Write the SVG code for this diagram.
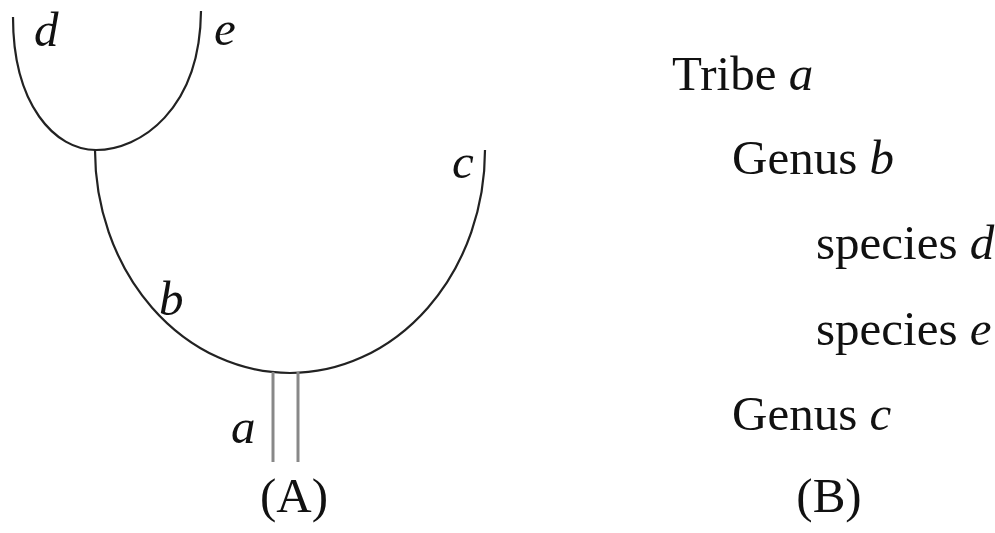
<svg xmlns="http://www.w3.org/2000/svg" width="995" height="533" viewBox="0 0 995 533">
<style>
.t{font-family:"Liberation Serif","Times New Roman",serif;font-size:49px;fill:#111}
.i{font-style:italic}
.br{fill:none;stroke:#222;stroke-width:2.2}
.st{fill:none;stroke:#888;stroke-width:3}
</style>
<rect width="995" height="533" fill="#fff"/>
<g id="connectors">
<path id="arc-de" class="br" d="M13,17 C13,105 55,150 96,150 C140,150 200,110 201,11"/>
<path id="arc-bc" class="br" d="M95,150 A195,223 0 0 0 485,150"/>
<line class="st" x1="273" y1="372" x2="273" y2="462"/>
<line class="st" x1="298" y1="372" x2="298" y2="462"/>
</g>
<g id="label-d"><text class="t i" x="34" y="46">d</text></g>
<g id="label-e"><text class="t i" x="214" y="45">e</text></g>
<g id="label-c"><text class="t i" x="452" y="178">c</text></g>
<g id="label-b"><text class="t i" x="159" y="315">b</text></g>
<g id="label-a"><text class="t i" x="231" y="443">a</text></g>
<g id="caption-A"><text class="t" x="294" y="512" text-anchor="middle">(A)</text></g>
<g id="tribe-a"><text class="t" x="672" y="90">Tribe <tspan class="i">a</tspan></text></g>
<g id="genus-b"><text class="t" x="732" y="174">Genus <tspan class="i">b</tspan></text></g>
<g id="species-d"><text class="t" x="816" y="259">species <tspan class="i">d</tspan></text></g>
<g id="species-e"><text class="t" x="816" y="345">species <tspan class="i">e</tspan></text></g>
<g id="genus-c"><text class="t" x="732" y="430">Genus <tspan class="i">c</tspan></text></g>
<g id="caption-B"><text class="t" x="829" y="512" text-anchor="middle">(B)</text></g>
</svg>
